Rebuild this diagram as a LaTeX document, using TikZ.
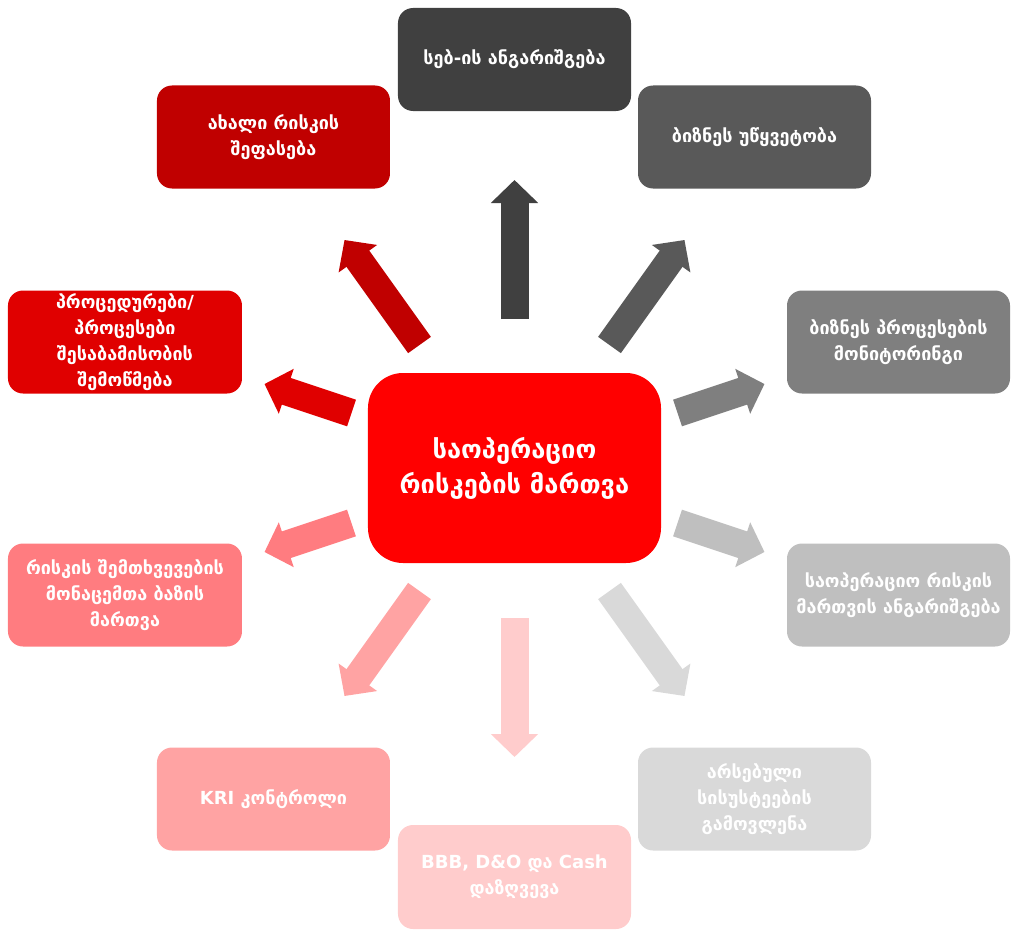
\documentclass[tikz,border=0pt]{standalone}
\usepackage{fontspec}
\setmainfont{DejaVu Sans}
\usetikzlibrary{positioning, arrows.meta}

\definecolor{cMain}{HTML}{FF0000}
\definecolor{cTop}{HTML}{404040}
\definecolor{cCont}{HTML}{595959}
\definecolor{cMon}{HTML}{7F7F7F}
\definecolor{cRep}{HTML}{BFBFBF}
\definecolor{cWeak}{HTML}{D9D9D9}
\definecolor{cIns}{HTML}{FFCCCC}
\definecolor{cKri}{HTML}{FFA3A3}
\definecolor{cDb}{HTML}{FF7C80}
\definecolor{cProc}{HTML}{E00000}
\definecolor{cNew}{HTML}{C00000}

\begin{document}
\begin{tikzpicture}[x=1pt, y=1pt,
    box/.style={rounded corners=15pt, minimum width=233pt, minimum height=103pt, inner sep=0pt,
        text=white, align=center, font=\bfseries\fontsize{18}{26}\selectfont},
    arr/.style={line width=28pt, -{Triangle[width=46pt, length=23pt]}}]
    \useasboundingbox (-514.5,-462) rectangle (496.5,468);
    % centre
    \node (main) [box, fill=cMain, minimum width=293pt, minimum height=190pt, rounded corners=35pt,
        font=\bfseries\fontsize{25.5}{35}\selectfont] at (0,0) {საოპერაციო\\რისკების მართვა};
    % boxes round it
    \node (seb) [box, fill=cTop] at (0,408.5) {სებ-ის ანგარიშგება};
    \node (cont) [box, fill=cCont] at (240,331) {ბიზნეს უწყვეტობა};
    \node (mon) [box, fill=cMon, minimum width=223pt] at (384,126) {ბიზნეს პროცესების\\მონიტორინგი};
    \node (rep) [box, fill=cRep, minimum width=223pt] at (384,-127) {საოპერაციო რისკის\\მართვის ანგარიშგება};
    \node (weak) [box, fill=cWeak] at (240,-331) {არსებული\\სისუსტეების\\გამოვლენა};
    \node (ins) [box, fill=cIns, minimum height=104pt] at (0,-409) {BBB, D\&O და Cash\\დაზღვევა};
    \node (kri) [box, fill=cKri] at (-241,-331) {KRI კონტროლი};
    \node (db) [box, fill=cDb, minimum width=234pt] at (-389.5,-127) {რისკის შემთხვევების\\მონაცემთა ბაზის\\მართვა};
    \node (proc) [box, fill=cProc, minimum width=234pt] at (-389.5,126) {პროცედურები/\\პროცესები\\შესაბამისობის\\შემოწმება};
    \node (new) [box, fill=cNew] at (-241,331) {ახალი რისკის\\შეფასება};
    % arrow ends
    \coordinate (sebT) at (0,149);      \coordinate (sebH) at (0,288);
    \coordinate (contT) at (95,123);    \coordinate (contH) at (170,228);
    \coordinate (monT) at (163,55);     \coordinate (monH) at (250,84);
    \coordinate (repT) at (163,-55);    \coordinate (repH) at (250,-84);
    \coordinate (weakT) at (95,-123);   \coordinate (weakH) at (170,-228);
    \coordinate (insT) at (0,-150);     \coordinate (insH) at (0,-289);
    \coordinate (kriT) at (-95,-123);   \coordinate (kriH) at (-170,-228);
    \coordinate (dbT) at (-163,-55);    \coordinate (dbH) at (-250,-84);
    \coordinate (procT) at (-163,55);   \coordinate (procH) at (-250,84);
    \coordinate (newT) at (-95,123);    \coordinate (newH) at (-170,228);
    \draw [arr, cTop] (sebT) -- (sebH);
    \draw [arr, cCont] (contT) -- (contH);
    \draw [arr, cMon] (monT) -- (monH);
    \draw [arr, cRep] (repT) -- (repH);
    \draw [arr, cWeak] (weakT) -- (weakH);
    \draw [arr, cIns] (insT) -- (insH);
    \draw [arr, cKri] (kriT) -- (kriH);
    \draw [arr, cDb] (dbT) -- (dbH);
    \draw [arr, cProc] (procT) -- (procH);
    \draw [arr, cNew] (newT) -- (newH);
\end{tikzpicture}
\end{document}
